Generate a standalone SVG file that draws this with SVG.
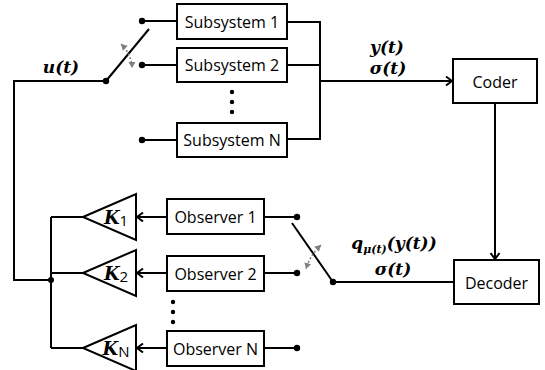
<svg xmlns="http://www.w3.org/2000/svg" width="545" height="370" viewBox="0 0 545 370">
<defs>
<style>
.box{fill:#fff;stroke:#000;stroke-width:2}
.ln{fill:none;stroke:#000;stroke-width:2}
.lbl{font-family:"Open Sans","Noto Sans",sans-serif;font-size:16px;font-weight:500;fill:#000;text-anchor:middle}
.math{font-family:"DejaVu Serif","Liberation Serif",serif;font-weight:bold;font-style:italic;font-size:17px;fill:#000;text-anchor:middle}
.sub{font-family:"DejaVu Serif",serif;font-weight:bold;font-style:italic;font-size:11px}
.kl{font-family:"DejaVu Serif",serif;font-weight:bold;font-style:italic;font-size:18px;fill:#000;text-anchor:middle}
.ksub{font-family:"Open Sans",sans-serif;font-style:normal;font-weight:normal;font-size:15px}
.grey{fill:none;stroke:#808080;stroke-width:1.5;stroke-dasharray:2 2}
</style>
<marker id="arr" markerWidth="12" markerHeight="12" refX="9" refY="6" orient="auto" markerUnits="userSpaceOnUse">
<path d="M3,1.5 L9,6 L3,10.5" fill="none" stroke="#000" stroke-width="2"/>
</marker>
<marker id="garr" markerWidth="8" markerHeight="8" refX="6" refY="4" orient="auto" markerUnits="userSpaceOnUse">
<path d="M0,0.5 L6,4 L0,7.5 Z" fill="#808080"/>
</marker>
<marker id="garrs" markerWidth="8" markerHeight="8" refX="0" refY="4" orient="auto" markerUnits="userSpaceOnUse">
<path d="M6,0.5 L0,4 L6,7.5 Z" fill="#808080"/>
</marker>
</defs>
<rect width="545" height="370" fill="#fff"/>

<g id="connectors">
<path class="ln" d="M106,81 H14 V280 H51"/>
<path class="ln" d="M51,217 V348"/>
<path class="ln" d="M51,217 H83 M51,273 H83 M51,348 H83"/>
<circle cx="51" cy="280" r="3"/>
<path class="ln" d="M106,81 L149,29"/>
<circle cx="106" cy="81" r="3.2"/>
<path class="ln" d="M142,21 H177 M142,65 H177 M142,140 H177"/>
<circle cx="142" cy="21" r="3.2"/>
<circle cx="142" cy="65" r="3.2"/>
<circle cx="142" cy="140" r="3.2"/>
<path class="grey" d="M121,44 Q132,55 132,68" marker-start="url(#garrs)" marker-end="url(#garr)"/>
<path class="ln" d="M287,22 H320 V139 H287 M287,65 H320"/>
<path class="ln" d="M320,81 H452" marker-end="url(#arr)"/>
<path class="ln" d="M495,103 V259" marker-end="url(#arr)"/>
<path class="ln" d="M454,282 H333"/>
<path class="ln" d="M333,282 L292,223"/>
<circle cx="333" cy="282" r="3.2"/>
<path class="ln" d="M264,217 H297 M264,273 H297 M264,348 H297"/>
<circle cx="297" cy="217" r="3.2"/>
<circle cx="297" cy="273" r="3.2"/>
<circle cx="297" cy="348" r="3.2"/>
<path class="grey" d="M321,245 Q310,255 306,269" marker-start="url(#garrs)" marker-end="url(#garr)"/>
<path class="ln" d="M167,217 H137" marker-end="url(#arr)"/>
<path class="ln" d="M167,273 H137" marker-end="url(#arr)"/>
<path class="ln" d="M167,348 H137" marker-end="url(#arr)"/>
</g>

<g id="sub1"><rect class="box" x="177" y="4" width="110" height="35"/><text class="lbl" x="232" y="27.5">Subsystem 1</text></g>
<g id="sub2"><rect class="box" x="177" y="48" width="110" height="34"/><text class="lbl" x="232" y="71">Subsystem 2</text></g>
<g id="subdots"><circle cx="232" cy="92" r="2.2"/><circle cx="232" cy="102" r="2.2"/><circle cx="232" cy="112" r="2.2"/></g>
<g id="subN"><rect class="box" x="177" y="123" width="110" height="34"/><text class="lbl" x="232" y="146">Subsystem N</text></g>

<g id="coder"><rect class="box" x="453" y="59" width="84" height="44"/><text class="lbl" x="495" y="87.5">Coder</text></g>
<g id="decoder"><rect class="box" x="454" y="260" width="85" height="44"/><text class="lbl" x="496.5" y="288.5">Decoder</text></g>

<g id="obs1"><rect class="box" x="167" y="199" width="97" height="35"/><text class="lbl" x="215.5" y="222.5">Observer 1</text></g>
<g id="obs2"><rect class="box" x="167" y="256" width="97" height="35"/><text class="lbl" x="215.5" y="279.5">Observer 2</text></g>
<g id="obsdots"><circle cx="173" cy="302" r="2.2"/><circle cx="173" cy="312" r="2.2"/><circle cx="173" cy="322" r="2.2"/></g>
<g id="obsN"><rect class="box" x="167" y="331" width="97" height="35"/><text class="lbl" x="215.5" y="354.5">Observer N</text></g>

<g id="k1"><path class="box" d="M83,217 L136,194 V240 Z"/><text class="kl" x="116" y="224">K<tspan class="ksub" dy="2">1</tspan></text></g>
<g id="k2"><path class="box" d="M83,273 L136,250 V296 Z"/><text class="kl" x="116" y="280">K<tspan class="ksub" dy="2">2</tspan></text></g>
<g id="kN"><path class="box" d="M83,348 L136,325 V371 Z"/><text class="kl" x="116" y="355">K<tspan class="ksub" dy="2">N</tspan></text></g>

<g id="labels">
<text class="math" x="61" y="73">u(t)</text>
<text class="math" x="387" y="53">y(t)</text>
<text class="math" x="388" y="74">σ(t)</text>
<text class="math" x="394" y="249">q<tspan class="sub" dy="4">μ(t)</tspan><tspan dy="-4">(y(t))</tspan></text>
<text class="math" x="393" y="275">σ(t)</text>
</g>
</svg>
